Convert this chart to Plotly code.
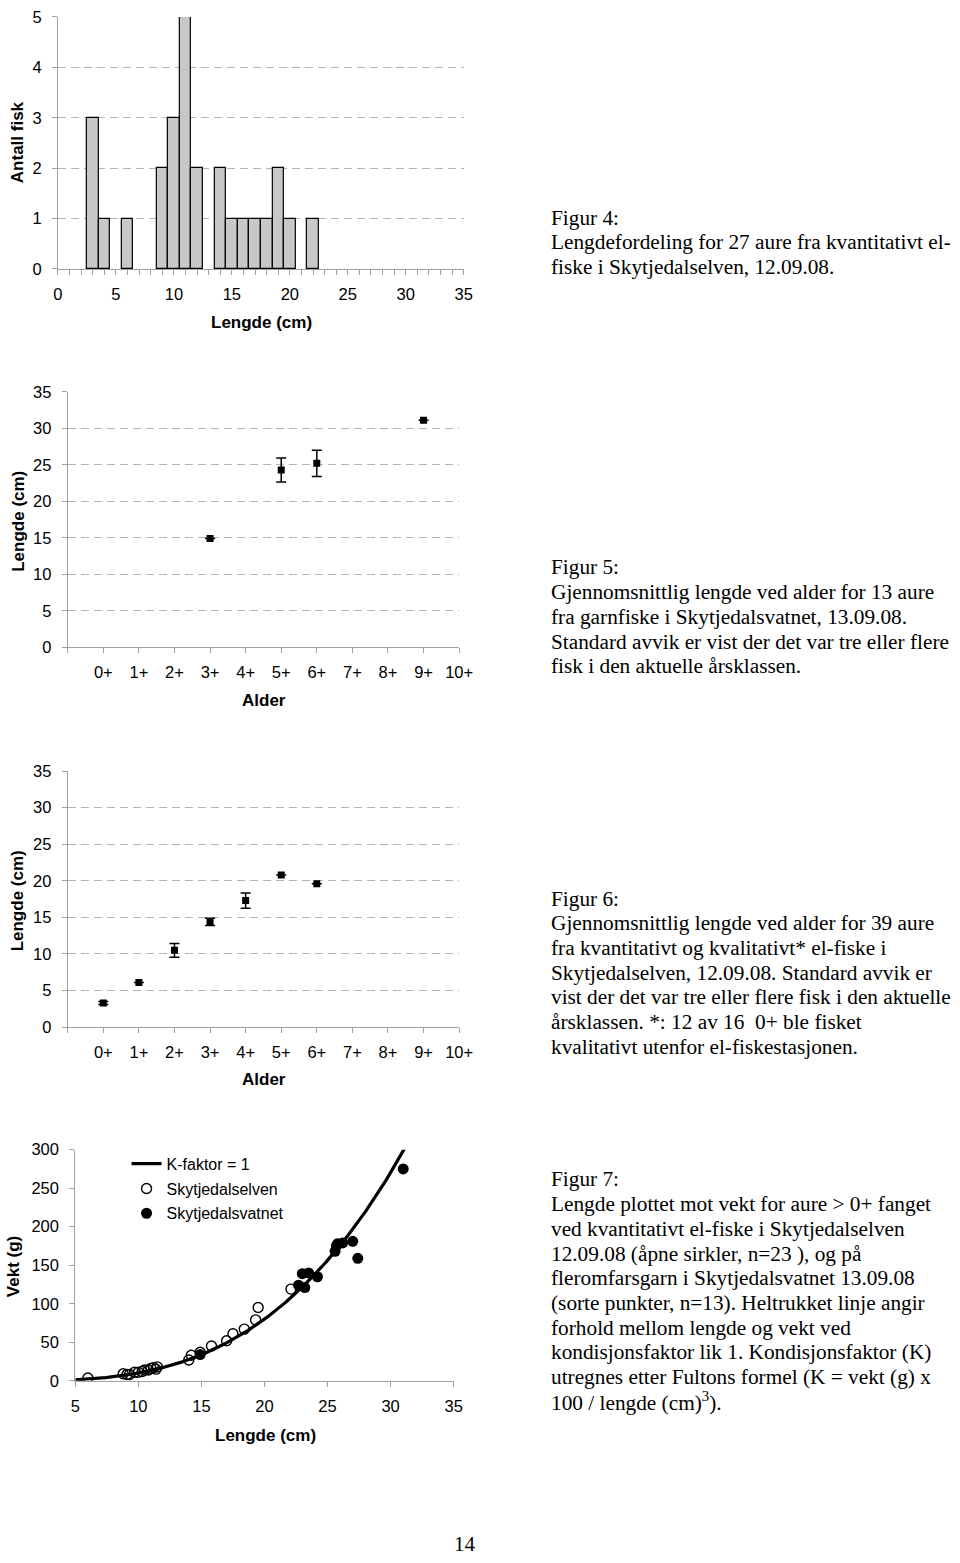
import numpy as np
import plotly.graph_objects as go

W, H = 960, 1563

def px_x(p):
    return p / W

def px_y(p):
    return 1 - p / H

# ---------------- Data ----------------
# Figur 4: length distribution (cm, 1 cm bins)
hist_len = [3, 4, 6, 9, 10, 11, 12, 14, 15, 16, 17, 18, 19, 20, 22]
hist_cnt = [3, 1, 1, 2, 3, 5, 2, 2, 1, 1, 1, 1, 2, 1, 1]

age_labels = ["0+", "1+", "2+", "3+", "4+", "5+", "6+", "7+", "8+", "9+", "10+"]

# Figur 5: Skytjedalsvatnet, mean length by age
f5_age = [3, 5, 6, 9]
f5_len = [14.9, 24.3, 25.2, 31.1]
f5_sd = [None, 1.65, 1.8, None]

# Figur 6: Skytjedalselven, mean length by age
f6_age = [0, 1, 2, 3, 4, 5, 6]
f6_len = [3.3, 6.1, 10.5, 14.4, 17.3, 20.8, 19.6]
f6_sd = [0.2, None, 0.93, 0.5, 1.05, None, None]

# Figur 7: length vs weight
elv_len = [6.0, 8.8, 9.1, 9.3, 9.7, 10.0, 10.3, 10.5, 10.8, 11.0, 11.2, 11.4, 11.5,
           14.0, 14.2, 14.9, 15.8, 17.0, 17.5, 18.4, 19.3, 19.5, 22.1]
elv_w = [3.5, 9, 8, 8, 11, 11, 12, 14, 14, 16, 17, 15, 18,
         27, 33, 37, 45, 52, 61, 67, 79, 95, 119]
vat_len = [14.9, 22.7, 23.0, 23.2, 23.5, 24.2, 25.6, 25.7, 25.8, 26.2, 27.0, 27.4, 31.0]
vat_w = [34, 124, 139, 121, 140, 135, 168, 175, 178, 179, 181, 159, 275]

K_FAKTOR = 1
k_len = np.linspace(5, 31.6, 200)
k_w = K_FAKTOR * k_len ** 3 / 100

# ---------------- Styles ----------------
SANS = "Liberation Sans"
SERIF = "Liberation Serif"
GRID = "#b4b4b4"
AXC = "#a0a0a0"
TICKF = dict(family=SANS, size=16.5, color="black")

fig = go.Figure()

# Chart 1: histogram
fig.add_trace(go.Bar(x=hist_len, y=hist_cnt, width=1,
                     marker=dict(color="#c8c8c8", line=dict(color="black", width=1.2)),
                     xaxis="x", yaxis="y", showlegend=False))

# Chart 2
fig.add_trace(go.Scatter(x=f5_age, y=f5_len, mode="markers",
                         marker=dict(symbol="square", size=7, color="black"),
                         error_y=dict(type="data", array=f5_sd, color="black", thickness=1.5, width=5),
                         xaxis="x2", yaxis="y2", showlegend=False))
# Chart 3
fig.add_trace(go.Scatter(x=f6_age, y=f6_len, mode="markers",
                         marker=dict(symbol="square", size=7, color="black"),
                         error_y=dict(type="data", array=f6_sd, color="black", thickness=1.5, width=5),
                         xaxis="x3", yaxis="y3", showlegend=False))
# Chart 4
fig.add_trace(go.Scatter(x=k_len, y=k_w, mode="lines", name="K-faktor = 1",
                         line=dict(color="black", width=3.2), legendgroup="a",
                         xaxis="x4", yaxis="y4"))
fig.add_trace(go.Scatter(x=elv_len, y=elv_w, mode="markers", name="Skytjedalselven",
                         marker=dict(symbol="circle-open", size=10, color="black", line=dict(width=1.4)),
                         legendgroup="b", xaxis="x4", yaxis="y4"))
fig.add_trace(go.Scatter(x=vat_len, y=vat_w, mode="markers", name="Skytjedalsvatnet",
                         marker=dict(symbol="circle", size=11, color="black"),
                         legendgroup="c", xaxis="x4", yaxis="y4"))

def xax(dom, anchor, **kw):
    d = dict(domain=dom, anchor=anchor, showgrid=False, zeroline=False, showline=True,
             linecolor=AXC, linewidth=1, ticks="outside", ticklen=5, tickcolor=AXC,
             tickfont=TICKF, ticklabelstandoff=5, fixedrange=True)
    d.update(kw)
    return d

def yax(dom, anchor, grid=True, **kw):
    d = dict(domain=dom, anchor=anchor, showgrid=grid, gridcolor=GRID, griddash="8px,5px",
             gridwidth=1, zeroline=False, showline=True, linecolor=AXC, linewidth=1,
             ticks="outside", ticklen=5, tickcolor=AXC, tickfont=TICKF,
             ticklabelstandoff=7, fixedrange=True)
    d.update(kw)
    return d

layout = dict(
    width=W, height=H, margin=dict(l=0, r=0, t=0, b=0),
    paper_bgcolor="white", plot_bgcolor="white", bargap=0,
    xaxis=xax([px_x(54), px_x(468)], "y", range=[0, 35], dtick=5, tick0=0,
              minor=dict(dtick=1, ticks="outside", ticklen=5, tickcolor=AXC)),
    yaxis=yax([px_y(263), px_y(8)], "x", range=[0, 5], dtick=1),
    xaxis2=xax([px_x(64), px_x(463.3)], "y2", range=[-1, 10], tickvals=list(range(0, 11)),
               ticktext=age_labels,
               minor=dict(tickvals=[-1], ticks="outside", ticklen=5, tickcolor=AXC)),
    yaxis2=yax([px_y(645.7), px_y(387.3)], "x2", range=[0, 35], dtick=5),
    xaxis3=xax([px_x(64), px_x(463.3)], "y3", range=[-1, 10], tickvals=list(range(0, 11)),
               ticktext=age_labels,
               minor=dict(tickvals=[-1], ticks="outside", ticklen=5, tickcolor=AXC)),
    yaxis3=yax([px_y(1030), px_y(771)], "x3", range=[0, 35], dtick=5),
    xaxis4=xax([px_x(71.7), px_x(457.7)], "y4", range=[5, 35], dtick=5),
    yaxis4=yax([px_y(1387.7), px_y(1154)], "x4", grid=False, range=[0, 300], dtick=50),
    legend=dict(x=px_x(124), y=px_y(1151), xanchor="left", yanchor="top",
                font=dict(family=SANS, size=16, color="black"), bgcolor="rgba(0,0,0,0)",
                tracegroupgap=1, itemwidth=30),
)
fig.update_layout(**layout)

ann = []

def axis_title(text, x, y, angle=0):
    ann.append(dict(text="<b>%s</b>" % text, x=px_x(x), y=px_y(y), xref="paper", yref="paper",
                    showarrow=False, textangle=angle, xanchor="center", yanchor="middle",
                    font=dict(family=SANS, size=17, color="black")))

axis_title("Lengde (cm)", 262, 317)
axis_title("Antall fisk", 13, 135, -90)
axis_title("Alder", 264, 700)
axis_title("Lengde (cm)", 13, 518, -90)
axis_title("Alder", 264, 1083)
axis_title("Lengde (cm)", 13, 902, -90)
axis_title("Lengde (cm)", 266, 1443)
axis_title("Vekt (g)", 9, 1272, -90)

captions = [
    (211, ["Figur 4:",
           "Lengdefordeling for 27 aure fra kvantitativt el-",
           "fiske i Skytjedalselven, 12.09.08."]),
    (565, ["Figur 5:",
           "Gjennomsnittlig lengde ved alder for 13 aure",
           "fra garnfiske i Skytjedalsvatnet, 13.09.08.",
           "Standard avvik er vist der det var tre eller flere",
           "fisk i den aktuelle årsklassen."]),
    (900, ["Figur 6:",
           "Gjennomsnittlig lengde ved alder for 39 aure",
           "fra kvantitativt og kvalitativt* el-fiske i",
           "Skytjedalselven, 12.09.08. Standard avvik er",
           "vist der det var tre eller flere fisk i den aktuelle",
           "årsklassen. *: 12 av 16  0+ ble fisket",
           "kvalitativt utenfor el-fiskestasjonen."]),
    (1184, ["Figur 7:",
            "Lengde plottet mot vekt for aure &gt; 0+ fanget",
            "ved kvantitativt el-fiske i Skytjedalselven",
            "12.09.08 (åpne sirkler, n=23 ), og på",
            "fleromfarsgarn i Skytjedalsvatnet 13.09.08",
            "(sorte punkter, n=13). Heltrukket linje angir",
            "forhold mellom lengde og vekt ved",
            "kondisjonsfaktor lik 1. Kondisjonsfaktor (K)",
            "utregnes etter Fultons formel (K = vekt (g) x",
            "100 / lengde (cm)<sup>3</sup>)."]),
]
for y0, lines in captions:
    for i, line in enumerate(lines):
        ann.append(dict(text=line, x=px_x(555), y=px_y(y0 + 25 * i), xref="paper", yref="paper",
                        showarrow=False, xanchor="left", yanchor="middle",
                        font=dict(family=SERIF, size=21.3, color="black")))

ann.append(dict(text="14", x=px_x(469), y=px_y(1553), xref="paper", yref="paper",
                showarrow=False, xanchor="center", yanchor="middle",
                font=dict(family=SERIF, size=21, color="black")))

fig.update_layout(annotations=ann)
fig.write_html("out.html")
